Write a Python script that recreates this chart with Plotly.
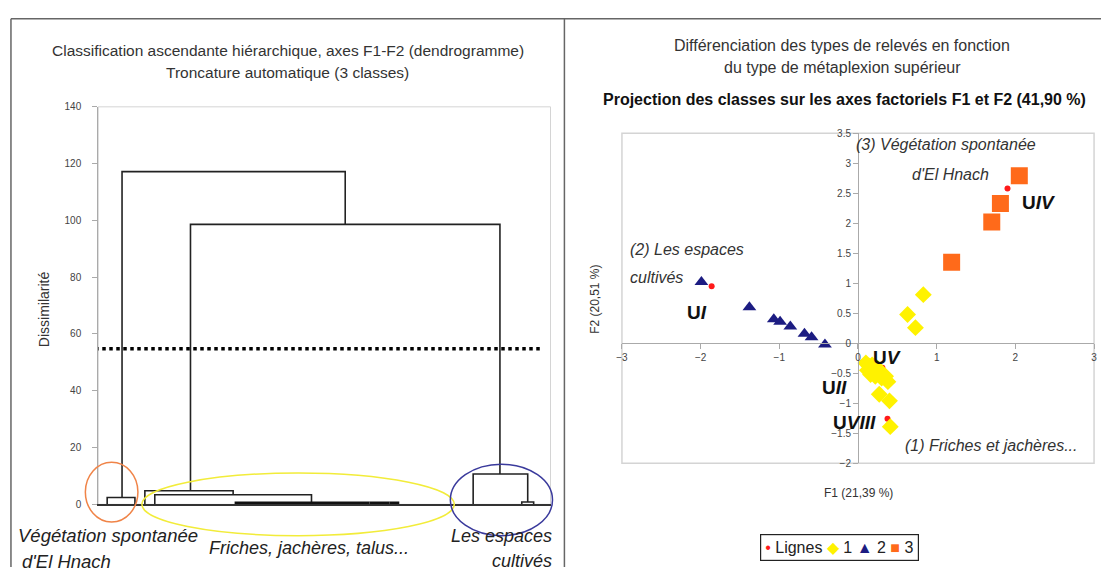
import plotly.graph_objects as go

W, H = 1104, 573
FONT = "Liberation Sans Narrow, Arial Narrow, Liberation Sans, sans-serif"

# ---------------- Dendrogram (CAH) ----------------
# Each link: left / right leaf position, merge height, heights of the two children
link_left = [24, 93, 9, 47, 57, 378, 427]
link_right = [249, 405, 37, 136, 215, 433, 439]
link_height = [117.2, 98.6, 2.4, 4.8, 3.4, 10.7, 0.8]
link_left_child = [2.4, 4.8, 0, 0, 0, 0, 0]
link_right_child = [98.6, 10.7, 0, 3.4, 0.4, 0.8, 0]

# Very low merges among the Friches leaves
low_left = [139, 275, 295]
low_right = [272, 292, 302]
low_height = [0.5, 0.5, 0.5]

truncation_level = 54.8
dendro_ticks = [0, 20, 40, 60, 80, 100, 120, 140]

# ---------------- Factorial projection F1 x F2 ----------------
lignes_f1 = [-1.86, 1.90, 0.06, 0.31, 0.375]
lignes_f2 = [0.95, 2.58, -0.32, -0.41, -1.26]

c1_f1 = [0.10, 0.14, 0.18, 0.12, 0.20, 0.25, 0.16, 0.22, 0.28, 0.30, 0.35, 0.38,
         0.27, 0.40, 0.41, 0.83, 0.63, 0.73]
c1_f2 = [-0.33, -0.38, -0.36, -0.45, -0.45, -0.42, -0.52, -0.55, -0.50, -0.58, -0.55, -0.64,
         -0.85, -0.96, -1.39, 0.81, 0.48, 0.26]

c2_f1 = [-1.99, -1.38, -1.07, -0.99, -0.86, -0.68, -0.59, -0.42]
c2_f2 = [1.02, 0.60, 0.40, 0.36, 0.28, 0.16, 0.10, -0.02]

c3_f1 = [2.05, 1.81, 1.70, 1.19]
c3_f2 = [2.79, 2.33, 2.02, 1.35]

unit_names = ["U<i>I</i>", "U<i>IV</i>", "U<i>V</i>", "U<i>II</i>", "U<i>VIII</i>"]
unit_f1 = [-2.05, 2.29, 0.37, -0.30, -0.04]
unit_f2 = [0.51, 2.35, -0.23, -0.73, -1.32]

group_names = ["(3) Végétation spontanée", "d'El Hnach", "(2) Les espaces", "cultivés",
               "(1) Friches et jachères..."]
group_f1 = [1.12, 1.17, -2.17, -2.92, 1.70]
group_f2 = [3.31, 2.82, 1.57, 1.09, -1.71]
group_anchor = ["center", "center", "center", "left", "center"]


def px(x, y):
    """Pixel position on the page -> paper coordinates."""
    return x / W, 1 - y / H


fig = go.Figure()

# Dendrogram links as U shapes
xs, ys = [], []
for xl, xr, h, hl, hr in zip(link_left, link_right, link_height, link_left_child, link_right_child):
    xs += [xl, xl, xr, xr, None]
    ys += [hl, h, h, hr, None]
fig.add_trace(go.Scatter(x=xs, y=ys, mode="lines", line=dict(color="#222", width=1.6),
                         hoverinfo="skip", showlegend=False, xaxis="x", yaxis="y"))
xs, ys = [], []
for xl, xr, h in zip(low_left, low_right, low_height):
    xs += [xl, xl, xr, xr, None]
    ys += [0, h, h, 0, None]
fig.add_trace(go.Scatter(x=xs, y=ys, mode="lines", line=dict(color="#111", width=3),
                         hoverinfo="skip", showlegend=False, xaxis="x", yaxis="y"))
# Automatic truncation level
fig.add_trace(go.Scatter(x=[-3, 447], y=[truncation_level] * 2, mode="lines",
                         line=dict(color="#000", width=3.5, dash="dot"), cliponaxis=False,
                         hoverinfo="skip", showlegend=False, xaxis="x", yaxis="y"))

# Scatter of the classes
fig.add_trace(go.Scatter(x=lignes_f1, y=lignes_f2, mode="markers", name="Lignes",
                         marker=dict(symbol="circle", size=6, color="#ff1a1a"),
                         xaxis="x2", yaxis="y2", showlegend=False))
fig.add_trace(go.Scatter(x=c1_f1, y=c1_f2, mode="markers", name="1",
                         marker=dict(symbol="diamond", size=13, color="#fff200"),
                         xaxis="x2", yaxis="y2", showlegend=False))
fig.add_trace(go.Scatter(x=c2_f1, y=c2_f2, mode="markers", name="2",
                         marker=dict(symbol="triangle-up", size=12, color="#1c1c82"),
                         xaxis="x2", yaxis="y2", showlegend=False))
fig.add_trace(go.Scatter(x=c3_f1, y=c3_f2, mode="markers", name="3",
                         marker=dict(symbol="square", size=17, color="#ff6a1a"),
                         xaxis="x2", yaxis="y2", showlegend=False))

# Axes geometry
x1_dom = [px(93, 0)[0], px(549, 0)[0]]
y1_dom = [px(0, 509)[1], px(0, 103)[1]]
x2_dom = [px(621, 0)[0], px(1097, 0)[0]]
y2_dom = [px(0, 467)[1], px(0, 130)[1]]
x2_range = [-3, 3]
y2_range = [-2, 3.5]
# F1 / F2 axes cross at the origin
xaxis2_pos = y2_dom[0] + (0 - y2_range[0]) / (y2_range[1] - y2_range[0]) * (y2_dom[1] - y2_dom[0])
yaxis2_pos = x2_dom[0] + (0 - x2_range[0]) / (x2_range[1] - x2_range[0]) * (x2_dom[1] - x2_dom[0])

tick_font = dict(family=FONT, size=10, color="#444")

fig.update_layout(
    width=W, height=H, margin=dict(l=0, r=0, t=0, b=0),
    paper_bgcolor="white", plot_bgcolor="white",
    font=dict(family=FONT, color="#222"),
    xaxis=dict(domain=x1_dom, range=[0, 456], showgrid=False, zeroline=False,
               showticklabels=False, ticks="", showline=True, linecolor="#333", linewidth=1.5),
    yaxis=dict(domain=y1_dom, range=[0, 140], tickvals=dendro_ticks, showgrid=False,
               zeroline=False, showline=True, linecolor="#aaa", linewidth=1, ticks="outside",
               ticklen=5, tickcolor="#aaa", tickfont=tick_font, ticklabelstandoff=9),
    xaxis2=dict(domain=x2_dom, range=x2_range, dtick=1, showgrid=False, zeroline=False,
                anchor="free", position=xaxis2_pos, showline=True, linecolor="#aaa",
                ticks="outside", ticklen=5, tickcolor="#aaa", tickfont=tick_font),
    yaxis2=dict(domain=y2_dom, range=y2_range, dtick=0.5, showgrid=False, zeroline=False,
                anchor="free", position=yaxis2_pos, showline=True, linecolor="#aaa",
                ticks="outside", ticklen=5, tickcolor="#aaa", tickfont=tick_font),
)

shapes = []
# Plot frames
shapes.append(dict(type="rect", xref="x domain", yref="y domain", x0=0, x1=1, y0=0, y1=1,
                   line=dict(color="#d4d4d4", width=1), layer="below"))
shapes.append(dict(type="rect", xref="x2 domain", yref="y2 domain", x0=0, x1=1, y0=0, y1=1,
                   line=dict(color="#d4d4d4", width=1.5), layer="below"))
# Outer panel borders
for (xa, ya, xb, yb) in [(5, 13, 1104, 13), (5, 13, 5, 573), (563, 13, 563, 573)]:
    p0, p1 = px(xa, ya), px(xb, yb)
    shapes.append(dict(type="line", xref="paper", yref="paper", x0=p0[0], y0=p0[1],
                       x1=p1[0], y1=p1[1], line=dict(color="#666", width=1.5)))
# Class ellipses around the dendrogram leaves
for (xa, ya, xb, yb, col) in [(80, 466, 133, 527, "#f08448"),
                              (137, 477, 452, 541, "#f2ec3a"),
                              (448, 468, 551, 541, "#3a3a9c")]:
    p0, p1 = px(xa, yb), px(xb, ya)
    shapes.append(dict(type="circle", xref="paper", yref="paper", x0=p0[0], y0=p0[1],
                       x1=p1[0], y1=p1[1], line=dict(color=col, width=1.5)))
fig.update_layout(shapes=shapes)

ann = []


def text(x, y, s, size=14, color="#222", xanchor="center", angle=0, font=FONT):
    p = px(x, y)
    ann.append(dict(x=p[0], y=p[1], xref="paper", yref="paper", text=s, showarrow=False,
                    xanchor=xanchor, yanchor="middle", textangle=angle,
                    font=dict(family=font, size=size, color=color)))


# Left panel titles
text(284, 45, "Classification ascendante hiérarchique, axes F1-F2 (dendrogramme)", 15.5, "#333")
text(284, 68, "Troncature automatique (3 classes)", 15.5, "#333")
text(38, 310, "Dissimilarité", 14, "#333", angle=-90)
# Class names under the dendrogram
text(10, 541, "<i>Végétation spontanée</i>", 18.5, "#222", xanchor="left")
text(14, 567, "<i>d'El Hnach</i>", 18.5, "#222", xanchor="left")
text(305, 554, "<i>Friches, jachères, talus...</i>", 18, "#222")
text(553, 541, "<i>Les espaces</i>", 18, "#222", xanchor="right")
text(553, 567, "<i>cultivés</i>", 18, "#222", xanchor="right")

# Right panel titles
text(843, 40, "Différenciation des types de relevés en fonction", 16, "#333")
text(843, 63, "du type de métaplexion supérieur", 16, "#333")
text(845, 95, "<b>Projection des classes sur les axes factoriels F1 et F2 (41,90 %)</b>", 16, "#111")
text(594, 300, "F2 (20,51 %)", 12, "#333", angle=-90)
text(860, 497, "F1 (21,39 %)", 12, "#333")

# Legend box
legend_txt = ("<span style='color:#ff1a1a'>•</span> Lignes "
              "<span style='color:#fff200'>◆</span> 1 "
              "<span style='color:#1c1c82'>▲</span> 2 "
              "<span style='color:#ff6a1a'>■</span> 3")
p = px(840, 553)
ann.append(dict(x=p[0], y=p[1], xref="paper", yref="paper", text=legend_txt, showarrow=False,
                xanchor="center", yanchor="middle", bordercolor="#222", borderwidth=1.2,
                borderpad=4, bgcolor="white", font=dict(family=FONT, size=16, color="#222")))

# Relevé-unit labels and group labels on the projection
for name, fx, fy in zip(unit_names, unit_f1, unit_f2):
    ann.append(dict(x=fx, y=fy, xref="x2", yref="y2", text=f"<b>{name}</b>", showarrow=False,
                    font=dict(family=FONT, size=19, color="#111")))
for name, fx, fy, anc in zip(group_names, group_f1, group_f2, group_anchor):
    ann.append(dict(x=fx, y=fy, xref="x2", yref="y2", text=f"<i>{name}</i>", showarrow=False,
                    xanchor=anc, font=dict(family=FONT, size=16, color="#333")))

fig.update_layout(annotations=ann)
fig.write_html("out.html")
